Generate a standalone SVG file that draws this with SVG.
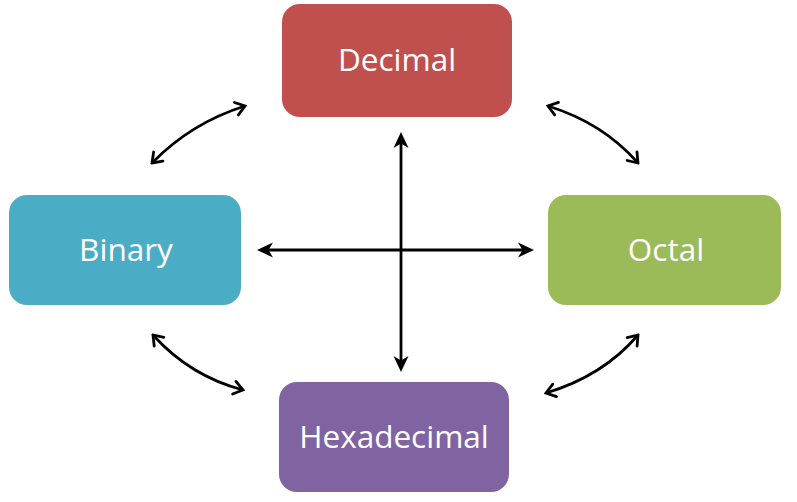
<svg xmlns="http://www.w3.org/2000/svg" width="797" height="502" viewBox="0 0 797 502">
<style>
.box{stroke:none}
.lbl{font-family:"Open Sans","Liberation Sans",sans-serif;font-size:31.5px;fill:#ffffff;text-anchor:middle}
.st{fill:none;stroke:#000;stroke-width:2.8}
.cv{fill:none;stroke:#000;stroke-width:2.8}
</style>
<defs>
<marker id="stealth" viewBox="-20 -9 22 18" refX="-9" refY="0" markerWidth="22" markerHeight="18" markerUnits="userSpaceOnUse" orient="auto-start-reverse">
<path d="M0,0 L-16,-7.5 L-11.5,0 L-16,7.5 Z" fill="#000"/>
</marker>
<marker id="open" viewBox="-12 -9 14 18" refX="0" refY="0" markerWidth="14" markerHeight="18" markerUnits="userSpaceOnUse" orient="auto-start-reverse">
<path d="M-9,-6.5 L0,0 L-9,6.5" fill="none" stroke="#000" stroke-width="2.8" stroke-linejoin="miter" stroke-linecap="round"/>
</marker>
</defs>
<g id="connectors">
<path class="st" d="M266,250 L525,250" marker-start="url(#stealth)" marker-end="url(#stealth)"/>
<path class="st" d="M401,141 L401,363" marker-start="url(#stealth)" marker-end="url(#stealth)"/>
<path class="cv" d="M152,163 Q191,123 245,106" marker-start="url(#open)" marker-end="url(#open)"/>
<path class="cv" d="M548,106 Q603,123 638,163" marker-start="url(#open)" marker-end="url(#open)"/>
<path class="cv" d="M153,335 Q190,376 243,390" marker-start="url(#open)" marker-end="url(#open)"/>
<path class="cv" d="M546,393 Q603,376 638,335" marker-start="url(#open)" marker-end="url(#open)"/>
</g>
<g id="decimal">
<rect class="box" x="282" y="4" width="230" height="113" rx="18" fill="#C0504D"/>
<text class="lbl" x="397" y="71">Decimal</text>
</g>
<g id="binary">
<rect class="box" x="9" y="195" width="232" height="110" rx="18" fill="#4BACC6"/>
<text class="lbl" x="126" y="261">Binary</text>
</g>
<g id="octal">
<rect class="box" x="548" y="195" width="233" height="110" rx="18" fill="#9BBB59"/>
<text class="lbl" x="666" y="261">Octal</text>
</g>
<g id="hexadecimal">
<rect class="box" x="279" y="382" width="230" height="110" rx="18" fill="#8064A2"/>
<text class="lbl" x="394" y="448">Hexadecimal</text>
</g>
</svg>
